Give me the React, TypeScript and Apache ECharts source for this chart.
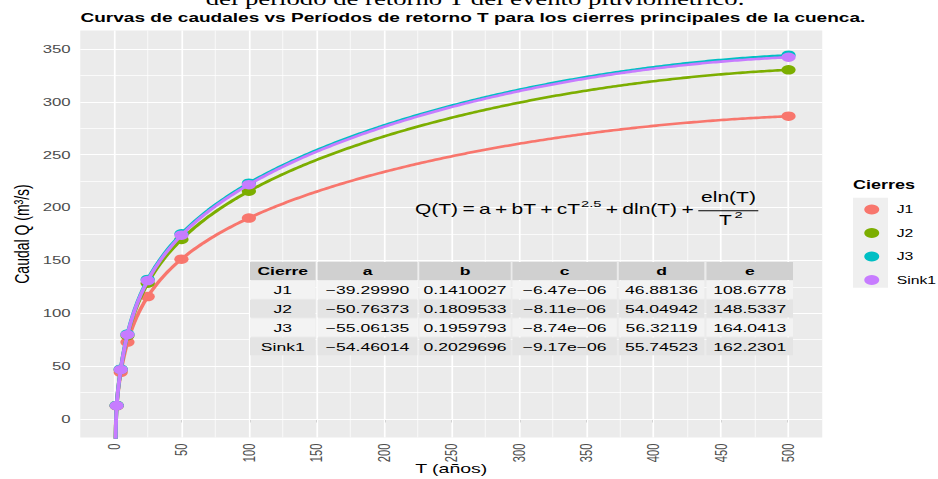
import React, { useEffect, useRef } from "react";
import * as echarts from "echarts";

// The reference image is stretched horizontally; the chart is drawn at its
// native width and stretched the same way.
const S = 1.5;
const W = 938 / S;
const H = 479;
const sx = (v: number) => v / S;

const FONT = "'Liberation Sans', Arial, Helvetica, sans-serif";

const cierres = ["J1", "J2", "J3", "Sink1"];
const colores = ["#F8766D", "#7CAE00", "#00BFC4", "#C77CFF"];

// Observed points
const periodos = [2, 5, 10, 25, 50, 100, 500];
const qJ1 = [12.3, 44.2, 72.8, 115.8, 151.2, 190.1, 286.4];
const qJ2 = [12.8, 46.7, 78.9, 128.5, 169.8, 215.5, 330.3];
const qJ3 = [12.8, 47.1, 80.4, 132.0, 175.2, 223.1, 344.1];
const qSink1 = [12.7, 46.7, 79.7, 130.9, 173.9, 221.7, 342.2];
const puntos = [qJ1, qJ2, qJ3, qSink1];

// Fitted coefficients (table in the chart)
const coefA = [-39.2999, -50.76373, -55.06135, -54.46014];
const coefB = [0.1410027, 0.1809533, 0.1959793, 0.2029696];
const coefC = [-6.47e-6, -8.11e-6, -8.74e-6, -9.17e-6];
const coefD = [46.88136, 54.04942, 56.32119, 55.74523];
const coefE = [108.6778, 148.5337, 164.0413, 162.2301];

// Axes
const xLim = [-25, 525];
const yLim = [-17.5, 367.5];
const xMajor = [0, 50, 100, 150, 200, 250, 300, 350, 400, 450, 500];
const xMinor = [25, 75, 125, 175, 225, 275, 325, 375, 425, 475];
const yMajor = [0, 50, 100, 150, 200, 250, 300, 350];
const yMinor = [25, 75, 125, 175, 225, 275, 325];

const tablaCols = ["Cierre", "a", "b", "c", "d", "e"];

function modelo(i: number, t: number) {
  const l = Math.log(t);
  return coefA[i] + coefB[i] * t + coefC[i] * Math.pow(t, 2.5) + coefD[i] * l + (coefE[i] * l) / (t * t);
}

function curvaT() {
  const ts: number[] = [];
  for (let k = 0; k <= 100; k++) ts.push(1 + k * 0.02);
  for (let t = 3.25; t < 20; t += 0.25) ts.push(t);
  for (let t = 20; t <= 500; t += 2) ts.push(t);
  return ts;
}

const minus = (s: string) => s.replace(/-/g, "\u2212");
const fix = (v: number, d: number) => minus(v.toFixed(d));
function expo(v: number) {
  const [m, e] = v.toExponential(2).split("e");
  const n = parseInt(e, 10);
  const sign = n < 0 ? "-" : "+";
  const p = String(Math.abs(n)).padStart(2, "0");
  return minus(m + "e" + sign + p);
}

function txt(text: string, x: number, y: number, size: number, opts: any = {}) {
  return {
    type: "text",
    x,
    y,
    z: opts.z ?? 100,
    silent: true,
    style: {
      text,
      fill: opts.fill ?? "#000",
      fontSize: size,
      fontFamily: opts.family ?? FONT,
      fontWeight: opts.weight ?? "normal",
      align: opts.align ?? "center",
      textAlign: opts.align ?? "center",
      verticalAlign: "middle",
      textVerticalAlign: "middle",
    },
  };
}

const measureCtx = document.createElement("canvas").getContext("2d");
function measure(t: string, size: number) {
  if (!measureCtx) return t.length * size * 0.55;
  measureCtx.font = `${size}px ${FONT}`;
  return measureCtx.measureText(t).width;
}

export default function App() {
  const ref = useRef<HTMLDivElement>(null);

  useEffect(() => {
    if (!ref.current) return;
    const chart = echarts.init(ref.current, undefined, { renderer: "svg" });

    const ts = curvaT();
    const series: any[] = [];

    const gridLines = (xs: number[], ys: number[]) =>
      xs
        .map((x) => ({ coords: [[x, yLim[0]], [x, yLim[1]]] }))
        .concat(ys.map((y) => ({ coords: [[xLim[0], y], [xLim[1], y]] })));

    series.push({
      type: "lines",
      coordinateSystem: "cartesian2d",
      silent: true,
      z: 1,
      polyline: false,
      lineStyle: { color: "#FFFFFF", width: 0.6, opacity: 1 },
      data: gridLines(xMinor, yMinor),
    });
    series.push({
      type: "lines",
      coordinateSystem: "cartesian2d",
      silent: true,
      z: 1,
      polyline: false,
      lineStyle: { color: "#FFFFFF", width: 1.15, opacity: 1 },
      data: gridLines(xMajor, yMajor),
    });

    cierres.forEach((name, i) => {
      series.push({
        name,
        type: "line",
        data: ts.map((t) => [t, modelo(i, t)]),
        showSymbol: false,
        symbol: "none",
        smooth: false,
        clip: true,
        silent: true,
        z: 3 + i * 2,
        color: colores[i],
        lineStyle: { color: colores[i], width: 2.6 },
        itemStyle: { color: colores[i] },
      });
      series.push({
        name,
        type: "scatter",
        data: periodos.map((t, j) => [t, puntos[i][j]]),
        symbol: "circle",
        symbolSize: 9.5,
        silent: true,
        z: 4 + i * 2,
        itemStyle: { color: colores[i], opacity: 1 },
      });
    });

    const graphics: any[] = [];
    // caption cut off at the top of the image
    graphics.push(
      txt("del período de retorno T del evento pluviométrico.", sx(475), -0.5, 17.8, {
        family: "'Liberation Serif', 'Times New Roman', serif",
      })
    );
    // title
    graphics.push(
      txt(
        "Curvas de caudales vs Períodos de retorno T para los cierres principales de la cuenca.",
        sx(80.5),
        17,
        12.7,
        { align: "left", weight: "bold" }
      )
    );
    // legend title + key background
    graphics.push(txt("Cierres", sx(853), 185, 12, { align: "left", weight: "bold" }));
    graphics.push({
      type: "rect",
      z: 1,
      silent: true,
      shape: { x: sx(853), y: 197.75, width: sx(35), height: 90 },
      style: { fill: "#EFEFEF" },
    });

    // table
    const colEdges = [
      [250, 315.5],
      [317.5, 417.5],
      [419.3, 510.7],
      [512.5, 616.8],
      [618.8, 704.3],
      [706.5, 793],
    ];
    const rows: string[][] = [tablaCols];
    cierres.forEach((n, i) => {
      rows.push([n, fix(coefA[i], 5), fix(coefB[i], 7), expo(coefC[i]), fix(coefD[i], 5), fix(coefE[i], 4)]);
    });
    rows.forEach((row, r) => {
      const y0 = 262 + r * 18.85;
      const h = 17.9;
      const fill = r === 0 ? "#D0D0D0" : r % 2 === 1 ? "#F3F3F3" : "#E4E4E4";
      row.forEach((cell, c) => {
        const [a, b] = colEdges[c];
        graphics.push({
          type: "rect",
          z: 99,
          silent: true,
          shape: { x: sx(a), y: y0, width: sx(b - a), height: h },
          style: { fill },
        });
        graphics.push(
          txt(cell, sx((a + b) / 2), y0 + h / 2 + 0.5, 11.7, { weight: r === 0 ? "bold" : "normal" })
        );
      });
    });

    // formula  Q(T) = a + bT + cT^2.5 + d ln(T) + e ln(T) / T^2
    const fy = 209.5;
    const fs = 14;
    const ss = 9.8;
    const parts: { t: string; sup?: boolean; gap: boolean }[] = [
      { t: "Q(T)", gap: true },
      { t: "=", gap: true },
      { t: "a", gap: true },
      { t: "+", gap: true },
      { t: "bT", gap: true },
      { t: "+", gap: true },
      { t: "cT", gap: false },
      { t: "2.5", sup: true, gap: true },
      { t: "+", gap: true },
      { t: "dln(T)", gap: true },
      { t: "+", gap: true },
    ];
    const x0 = sx(415);
    const x1 = sx(698);
    const widths = parts.map((p) => measure(p.t, p.sup ? ss : fs));
    const nGaps = parts.filter((p) => p.gap).length;
    const gap = (x1 - x0 - widths.reduce((s, w) => s + w, 0) - 0.6) / nGaps;
    let cx = x0;
    parts.forEach((p, k) => {
      graphics.push(txt(p.t, cx, p.sup ? 203.8 : fy, p.sup ? ss : fs, { align: "left" }));
      cx += widths[k] + (p.gap ? gap : 0.6);
    });
    graphics.push({
      type: "line",
      z: 100,
      silent: true,
      shape: { x1: sx(698.3), y1: 210.7, x2: sx(758.3), y2: 210.7 },
      style: { stroke: "#000", lineWidth: 1 },
    });
    graphics.push(txt("eln(T)", sx(728.5), 196.8, fs));
    graphics.push(txt("T", sx(725.5), 219.8, fs));
    graphics.push(txt("2", sx(738.6), 214.5, ss));

    const axisCommon = {
      type: "value",
      axisLine: { show: false },
      splitLine: { show: false },
      minorSplitLine: { show: false },
      nameMoveOverlap: false,
    };

    chart.setOption({
      animation: false,
      textStyle: { fontFamily: FONT },
      grid: {
        left: sx(80.25),
        right: W - sx(822.75),
        top: 30.5,
        bottom: H - 437.5,
        show: true,
        backgroundColor: "#EBEBEB",
        borderWidth: 0,
        containLabel: false,
        outerBoundsMode: "none",
      },
      xAxis: {
        ...axisCommon,
        min: xLim[0],
        max: xLim[1],
        axisTick: {
          show: true,
          length: 3.5,
          lineStyle: { color: "#333333", width: 1 },
          customValues: xMajor,
        },
        axisLabel: {
          rotate: 90,
          margin: 6,
          fontSize: 11.2,
          color: "#4D4D4D",
          fontFamily: FONT,
          customValues: xMajor,
        },
        name: "T (años)",
        nameLocation: "middle",
        nameGap: 25,
        nameTextStyle: { fontSize: 13, color: "#000", fontFamily: FONT },
      },
      yAxis: {
        ...axisCommon,
        min: yLim[0],
        max: yLim[1],
        axisTick: {
          show: true,
          length: 3,
          lineStyle: { color: "#333333", width: 1 },
          customValues: yMajor,
        },
        axisLabel: {
          margin: 6.4,
          fontSize: 11.2,
          color: "#4D4D4D",
          fontFamily: FONT,
          customValues: yMajor,
        },
        name: "Caudal Q (m³/s)",
        nameLocation: "middle",
        nameRotate: 90,
        nameGap: 32,
        nameTextStyle: { fontSize: 14, color: "#000", fontFamily: FONT },
      },
      legend: {
        data: cierres,
        orient: "vertical",
        left: sx(853) + 7.5,
        top: 204,
        padding: 0,
        itemWidth: sx(35),
        itemHeight: 10,
        itemGap: 12.5,
        icon: "circle",
        selectedMode: false,
        textStyle: { fontSize: 10.5, lineHeight: 10, color: "#000", fontFamily: FONT },
      },
      graphic: { elements: graphics },
      series,
    });

    return () => chart.dispose();
  }, []);

  return (
    <div
      ref={ref}
      style={{
        position: "fixed",
        left: 0,
        top: 0,
        width: `${W}px`,
        height: `${H}px`,
        transform: `scaleX(${S})`,
        transformOrigin: "0 0",
        background: "#FFFFFF",
      }}
    />
  );
}
